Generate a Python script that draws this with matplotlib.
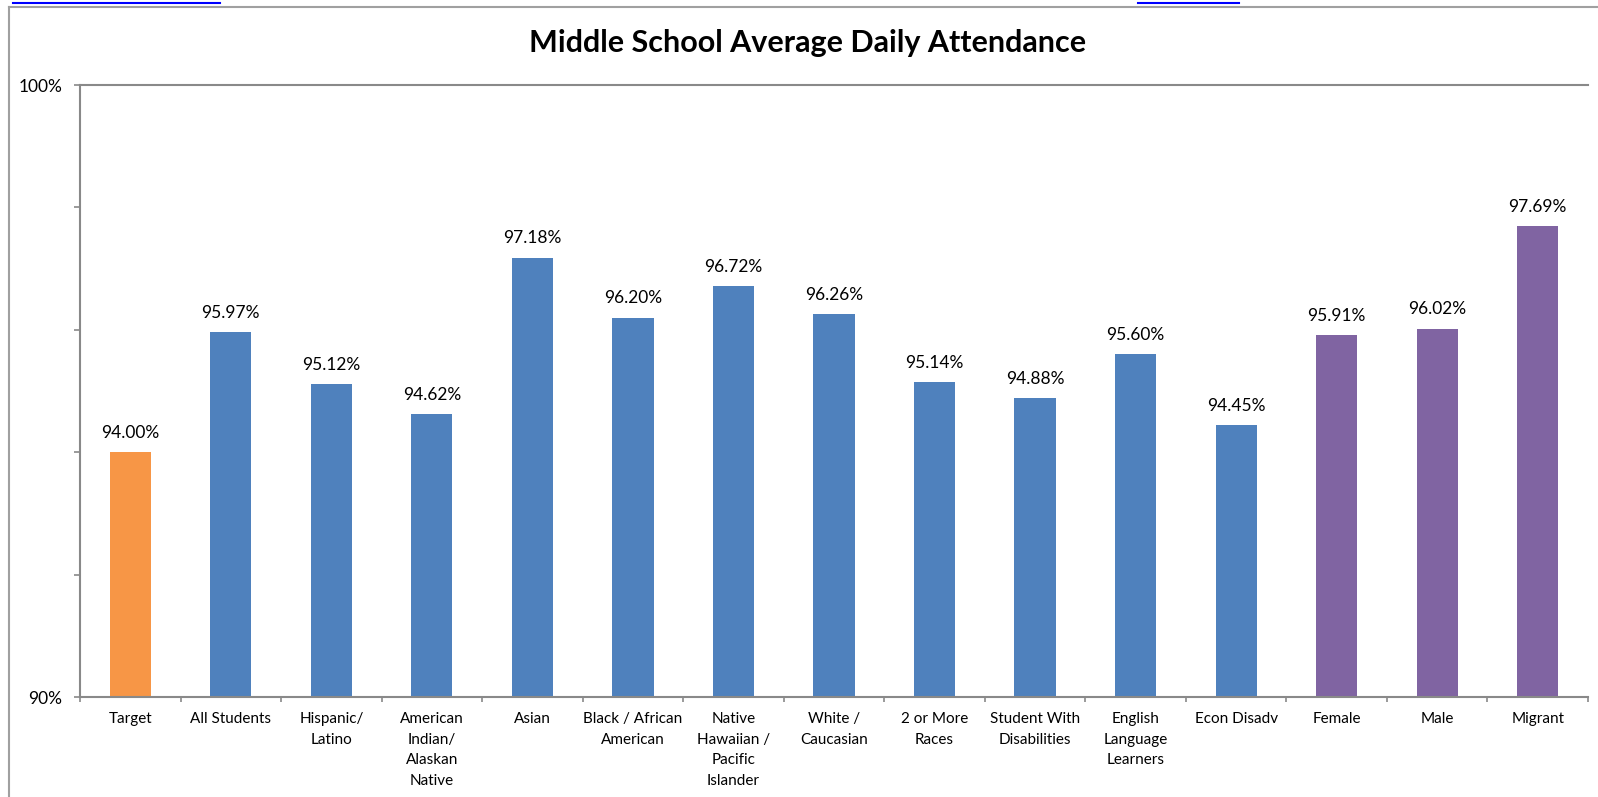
import matplotlib.pyplot as plt
from matplotlib.lines import Line2D
from matplotlib.ticker import FixedLocator, FuncFormatter

plt.rcParams['font.family'] = ['Lato', 'DejaVu Sans']

# datos del grafico
grupos = ["Target", "All Students", "Hispanic/\nLatino",
          "American\nIndian/\nAlaskan\nNative", "Asian",
          "Black / African\nAmerican", "Native\nHawaiian /\nPacific\nIslander",
          "White /\nCaucasian", "2 or More\nRaces", "Student With\nDisabilities",
          "English\nLanguage\nLearners", "Econ Disadv", "Female", "Male", "Migrant"]
asistencia = [94.00, 95.97, 95.12, 94.62, 97.18, 96.20, 96.72, 96.26,
              95.14, 94.88, 95.60, 94.45, 95.91, 96.02, 97.69]
tipo = ["meta"] + ["grupo"] * 11 + ["genero"] * 3

colores = {"meta": "#F79646", "grupo": "#4F81BD", "genero": "#8064A2"}
gris = "#898989"

W, H = 1598, 797
fig = plt.figure(figsize=(W / 100, H / 100), dpi=100)

# ejes: x 80..1588, y 85..697 (pixeles)
ax = fig.add_axes([80 / W, (H - 697) / H, (1588 - 80) / W, (697 - 85) / H])

x = list(range(len(grupos)))
ax.bar(x, [v - 90 for v in asistencia], bottom=90, width=0.41,
       color=[colores[t] for t in tipo], zorder=2)

for xi, v in zip(x, asistencia):
    ax.annotate("%.2f%%" % v, (xi, v), xytext=(0, 8), textcoords="offset points",
                ha="center", va="bottom", fontsize=12.5, color="black")

ax.set_xlim(-0.5, len(grupos) - 0.5)
ax.set_ylim(90, 100)

ax.yaxis.set_major_locator(FixedLocator([90, 92, 94, 96, 98, 100]))
ax.yaxis.set_major_formatter(FuncFormatter(
    lambda v, p: "%d%%" % v if v in (90, 100) else ""))
ax.set_xticks(x)
ax.set_xticklabels(grupos, fontsize=11, linespacing=1.6)
ax.xaxis.set_minor_locator(FixedLocator([i - 0.5 for i in range(len(grupos) + 1)]))
ax.tick_params(axis="x", which="major", length=0, pad=11)
ax.tick_params(axis="x", which="minor", length=3.8, width=1.2, color=gris)
ax.tick_params(axis="y", length=4.3, width=1.2, color=gris, labelsize=12.5, pad=8.5)
for lab in ax.get_xticklabels():
    lab.set_verticalalignment("top")

for lado in ["top", "left", "bottom"]:
    ax.spines[lado].set_color(gris)
    ax.spines[lado].set_linewidth(1.5)
ax.spines["right"].set_visible(False)

fig.text(808 / W, 1 - 43 / H, "Middle School Average Daily Attendance",
         ha="center", va="center", fontsize=22, fontweight="bold")

# borde exterior del grafico y enlaces recortados arriba
fig.add_artist(Line2D([9 / W, 9 / W], [0, 1 - 7 / H], color="#A0A0A0", lw=1.5))
fig.add_artist(Line2D([9 / W, 1], [1 - 7 / H, 1 - 7 / H], color="#A0A0A0", lw=1.5))
fig.add_artist(Line2D([13 / W, 220 / W], [1 - 2.5 / H, 1 - 2.5 / H], color="#0000FF", lw=1.5))
fig.add_artist(Line2D([1138 / W, 1239 / W], [1 - 2.5 / H, 1 - 2.5 / H], color="#0000FF", lw=1.5))

fig.savefig("out.png", dpi=100)
